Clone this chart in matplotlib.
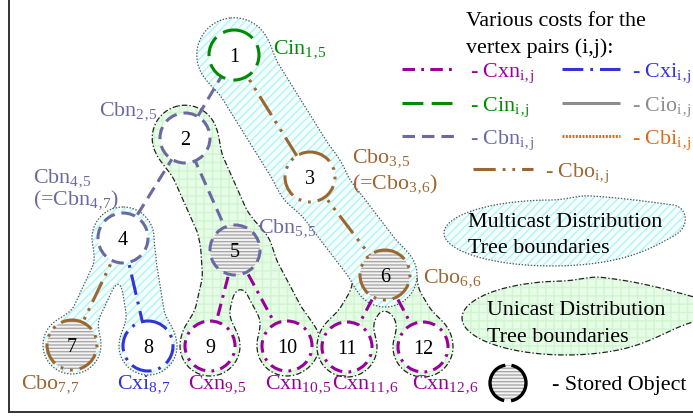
#!/usr/bin/env python3
"""Cost diagram for multicast / unicast distribution trees."""
import matplotlib

matplotlib.use("Agg")
import matplotlib.pyplot as plt
import numpy as np
from matplotlib.patches import Circle, PathPatch

plt.rcParams["font.family"] = "Liberation Serif"
plt.rcParams["mathtext.fontset"] = "custom"
plt.rcParams["mathtext.rm"] = "Liberation Serif"
plt.rcParams["mathtext.it"] = "Liberation Serif:italic"
plt.rcParams["mathtext.default"] = "rm"
plt.rcParams["lines.scale_dashes"] = False
plt.rcParams["hatch.linewidth"] = 1.0

C = "\u201a"  # comma look-alike, avoids mathtext punctuation spacing

# --- data -----------------------------------------------------------------
node_ids = [1, 2, 3, 4, 5, 6, 7, 8, 9, 10, 11, 12]
node_x = [234, 185, 310, 123, 235, 385, 72, 148, 210, 287, 347, 423]
node_y = [55, 138, 177, 238, 250, 275, 345, 346, 346, 346, 347, 347]
node_cost = ["Cin", "Cbn", "Cbo", "Cbn", "Cbn", "Cbo", "Cbo", "Cxi", "Cxn", "Cxn", "Cxn", "Cxn"]
stored_nodes = [5, 6, 7]

edge_from = [1, 1, 2, 2, 3, 4, 4, 5, 5, 6, 6]
edge_to = [2, 3, 4, 5, 6, 7, 8, 9, 10, 11, 12]
edge_cost = ["Cbn", "Cbo", "Cbn", "Cbn", "Cbo", "Cbo", "Cxi", "Cxn", "Cxn", "Cxn", "Cxn"]

label_name = ["Cin", "Cbn", "Cbn", "(=Cbn", "Cbo", "(=Cbo", "Cbn", "Cbo",
              "Cbo", "Cxi", "Cxn", "Cxn", "Cxn", "Cxn"]
label_sub = ["1,5", "2,5", "4,5", "4,7", "3,5", "3,6", "5,5", "6,6",
             "7,7", "8,7", "9,5", "10,5", "11,6", "12,6"]
label_tail = ["", "", "", ")", "", ")", "", "", "", "", "", "", "", ""]
label_x = [273, 99, 33, 33, 352, 352, 258, 423, 21, 117, 188, 265, 332, 412]
label_y = [53, 115, 182, 204, 162, 188, 232, 282, 388, 388, 388, 388, 388, 388]
label_cost = ["Cin", "Cbn", "Cbn", "Cbn", "Cbo", "Cbo", "Cbn", "Cbo",
              "Cbo", "Cxi", "Cxn", "Cxn", "Cxn", "Cxn"]

legend_cost = ["Cxn", "Cxi", "Cin", "Cio", "Cbn", "Cbi", "Cbo"]

COLORS = {
    "Cxn": "#990099",
    "Cxi": "#3333d6",
    "Cin": "#008a00",
    "Cio": "#8c8c8c",
    "Cbn": "#6a6aa0",
    "Cbi": "#dd6a18",
    "Cbo": "#9c6630",
}
DASHES = {
    "Cxn": (0, (9, 4.5, 2, 4.5)),
    "Cxi": (0, (15, 5, 2, 5)),
    "Cin": (0, (15, 6)),
    "Cio": "-",
    "Cbn": (0, (9, 5)),
    "Cbi": (0, (1.4, 1.0)),
    "Cbo": (0, (16, 5, 2, 5, 2, 5)),
}
FS = 15.8
R_NODE = 25

# --- grid for the smooth region outlines ----------------------------------
GX, GY = np.meshgrid(np.arange(0, 694, 1.0), np.arange(0, 417, 1.0))


def pos(n):
    i = node_ids.index(n)
    return node_x[i], node_y[i]


def d_circle(c, r):
    return np.hypot(GX - c[0], GY - c[1]) - r


def d_capsule(a, b, r):
    ax_, ay_ = a
    bx, by = b
    px, py = GX - ax_, GY - ay_
    vx, vy = bx - ax_, by - ay_
    h = np.clip((px * vx + py * vy) / (vx * vx + vy * vy), 0, 1)
    return np.hypot(px - vx * h, py - vy * h) - r


def d_ellipse(c, a, b):
    return (np.hypot((GX - c[0]) / a, (GY - c[1]) / b) - 1) * min(a, b)


def smin(fields, k):
    out = fields[0]
    for f in fields[1:]:
        h = np.clip(0.5 + 0.5 * (f - out) / k, 0, 1)
        out = f * (1 - h) + out * h - k * h * (1 - h)
    return out


def draw_region(ax, field, kind):
    cs = ax.contour(GX, GY, field, levels=[0.0])
    path = cs.get_paths()[0]
    cs.remove()
    if kind == "multi":
        face, hcol, hatch, edge, ls = "#f4fefe", "#b4f4f4", "////", "#555555", (0, (1, 1.2))
    else:
        face, hcol, hatch, edge, ls = "#e6fce6", "#cff4cf", "++", "#222222", (0, (4, 1.5, 1, 1.5))
    ax.add_patch(PathPatch(path, facecolor=face, edgecolor="none", lw=0, zorder=1))
    ax.add_patch(PathPatch(path, facecolor="none", edgecolor=hcol, hatch=hatch, lw=0, zorder=1))
    ax.add_patch(PathPatch(path, facecolor="none", edgecolor=edge, lw=0.9, ls=ls, zorder=1))


def sub_label(name, sub, tail=""):
    return name + "$_{" + sub.replace(",", C) + "}$" + tail


def main() -> None:
    fig = plt.figure(figsize=(6.93, 4.16), dpi=100)
    ax = fig.add_axes([0, 0, 1, 1])
    ax.set_xlim(0, 693)
    ax.set_ylim(416, 0)
    ax.axis("off")

    # frame fragments
    ax.plot([9, 9], [0, 412], color="#333333", lw=1.4)
    ax.plot([9, 693], [412, 412], color="#333333", lw=1.4)

    # unicast regions
    uni_a = smin([
        d_circle(pos(2), 31),
        d_capsule(pos(2), pos(5), 27),
        d_circle(pos(5), 31),
        d_capsule((250, 255), (295, 340), 21),
        d_capsule((222, 268), (208, 330), 17),
        d_circle(pos(9), 30),
        d_circle(pos(10), 30),
    ], 14)
    draw_region(ax, uni_a, "uni")
    uni_b = smin([
        d_circle(pos(6), 30),
        d_capsule((372, 290), (345, 335), 18),
        d_capsule((398, 290), (425, 335), 18),
        d_circle(pos(11), 30),
        d_circle(pos(12), 30),
    ], 12)
    draw_region(ax, uni_b, "uni")
    uni_leg = smin([d_ellipse((566, 318), 104, 37), d_capsule((600, 296), (691, 307), 3)], 40)
    draw_region(ax, uni_leg, "uni")

    # multicast regions
    multi_a = smin([
        d_circle(pos(1), 36),
        d_capsule(pos(1), pos(3), 33),
        d_capsule(pos(3), pos(6), 30),
        d_circle(pos(6), 29),
    ], 10)
    draw_region(ax, multi_a, "multi")
    multi_b = smin([
        d_circle(pos(4), 31),
        d_capsule((110, 262), (76, 335), 14),
        d_capsule((137, 262), (148, 330), 19),
        d_circle(pos(7), 29),
        d_circle(pos(8), 29),
    ], 12)
    draw_region(ax, multi_b, "multi")
    multi_leg = smin([d_ellipse((552, 233), 108, 33), d_capsule((590, 214), (673, 215), 3)], 40)
    draw_region(ax, multi_leg, "multi")

    # edges
    for a, b, cost in zip(edge_from, edge_to, edge_cost):
        (x0, y0), (x1, y1) = pos(a), pos(b)
        ax.plot([x0, x1], [y0, y1], color=COLORS[cost], ls=DASHES[cost], lw=2.2,
                solid_capstyle="butt", dash_capstyle="butt", zorder=2)

    # nodes
    for n, x, y, cost in zip(node_ids, node_x, node_y, node_cost):
        if n in stored_nodes:
            ax.add_patch(Circle((x, y), R_NODE, facecolor="#f4f4f4", edgecolor="none",
                                lw=0, zorder=3))
            ax.add_patch(Circle((x, y), R_NODE, facecolor="none", edgecolor="#a8a8a8",
                                hatch="-----", lw=0, zorder=3))
        else:
            ax.add_patch(Circle((x, y), R_NODE, facecolor="white", edgecolor="none",
                                lw=0, zorder=3))
        ax.add_patch(Circle((x, y), R_NODE, facecolor="none", edgecolor=COLORS[cost],
                            ls=DASHES[cost], lw=2.2, zorder=3))
        ax.text(x, y + 7, str(n), fontsize=14.5, ha="center", va="baseline",
                color="black", zorder=4)

    # cost labels
    for name, sub, tail, x, y, cost in zip(label_name, label_sub, label_tail,
                                           label_x, label_y, label_cost):
        ax.text(x, y, sub_label(name, sub, tail), fontsize=FS, color=COLORS[cost],
                ha="left", va="baseline", zorder=4)

    # legend of costs
    ax.text(466, 26, "Various costs for the", fontsize=FS, va="baseline")
    ax.text(466, 53, "vertex pairs (i,j):", fontsize=FS, va="baseline")
    spots = [(402, 455, 69, 470), (562, 620, 69, 632),
             (402, 455, 103, 470), (562, 620, 103, 632),
             (402, 455, 136, 470), (562, 620, 136, 632),
             (473, 533, 169, 545)]
    for cost, (x0, x1, y, tx) in zip(legend_cost, spots):
        ax.plot([x0, x1], [y, y], color=COLORS[cost], ls=DASHES[cost], lw=2.2,
                solid_capstyle="butt", dash_capstyle="butt")
        ax.text(tx, y + 8, sub_label("- " + cost, "i,j"), fontsize=FS,
                color=COLORS[cost], va="baseline")

    ax.text(468, 227, "Multicast Distribution", fontsize=FS, va="baseline", zorder=4)
    ax.text(468, 253, "Tree boundaries", fontsize=FS, va="baseline", zorder=4)
    ax.text(487, 315, "Unicast Distribution", fontsize=FS, va="baseline", zorder=4)
    ax.text(487, 342, "Tree boundaries", fontsize=FS, va="baseline", zorder=4)

    # stored object symbol
    ax.add_patch(Circle((508, 383), 18, facecolor="#f4f4f4", edgecolor="none", lw=0))
    ax.add_patch(Circle((508, 383), 18, facecolor="none", edgecolor="#a8a8a8",
                        hatch="-----", lw=0))
    ax.add_patch(Circle((508, 383), 18, facecolor="none", edgecolor="black", lw=2.4,
                        ls=(38.5, (36, 5))))
    ax.text(552, 390, "- Stored Object", fontsize=FS, va="baseline")

    fig.savefig("out.png", dpi=100)
    plt.close(fig)


if __name__ == "__main__":
    main()
